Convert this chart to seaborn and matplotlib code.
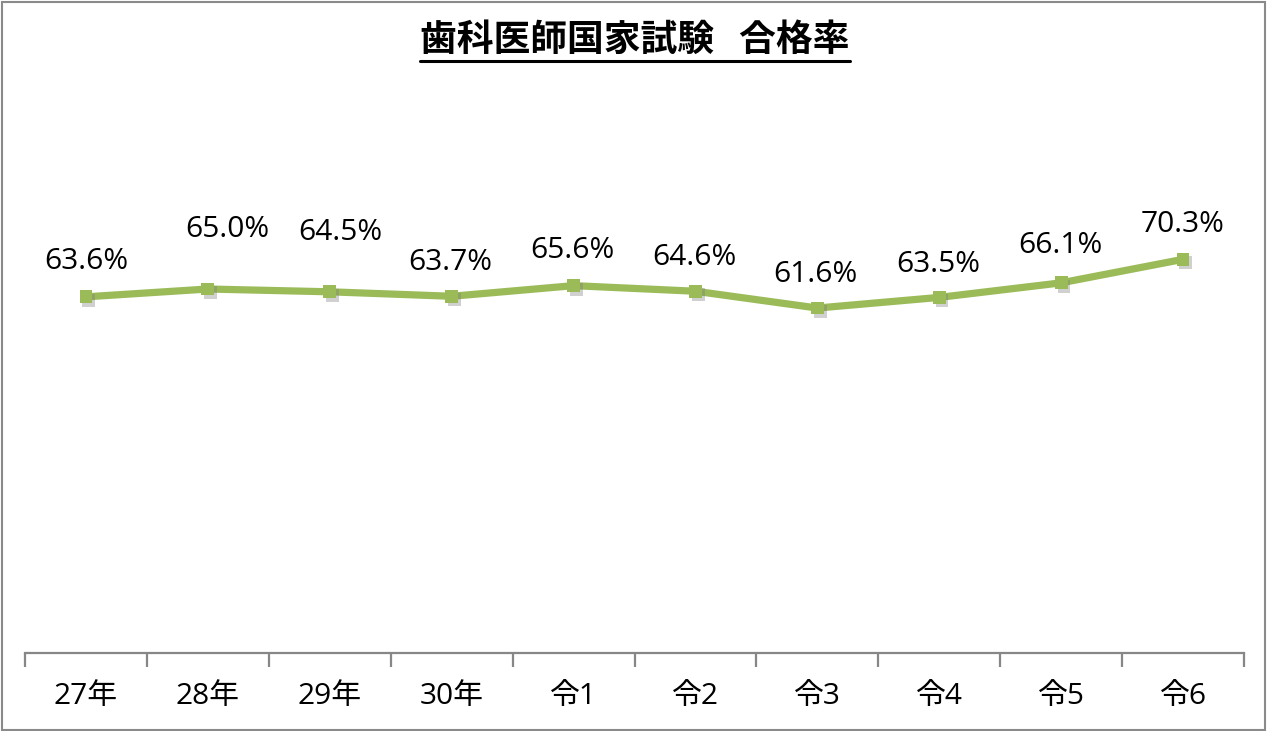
import matplotlib
matplotlib.use("Agg")
import matplotlib.pyplot as plt
import matplotlib.patheffects as pe
from matplotlib.lines import Line2D
from matplotlib.patches import Rectangle
import seaborn as sns
import pandas as pd

categories = ["27年", "28年", "29年", "30年", "令1", "令2", "令3", "令4", "令5", "令6"]
pass_rate = [63.6, 65.0, 64.5, 63.7, 65.6, 64.6, 61.6, 63.5, 66.1, 70.3]
label_texts = ["63.6%", "65.0%", "64.5%", "63.7%", "65.6%", "64.6%", "61.6%", "63.5%", "66.1%", "70.3%"]
title_text = "歯科医師国家試験   合格率"

# label offsets in pixels (dx, dy above point)
label_dx = [0, 19, 11, -1, -1, -1, -2, -1, -1, 0]
label_dy = [35, 59, 59, 34, 35, 34, 34, 33, 37, 35]

sns.set_theme(style="white")
plt.rcParams['font.family'] = ['Open Sans', 'Noto Sans CJK JP', 'DejaVu Sans']

W, H = 1268, 731
fig = plt.figure(figsize=(W / 100, H / 100), dpi=100)
ax = fig.add_axes([25 / W, 78 / H, (1244 - 25) / W, 560 / H])

df = pd.DataFrame({"cat": categories, "rate": pass_rate})
green = "#9BBB59"
sns.lineplot(data=df, x="cat", y="rate", ax=ax, color=green, linewidth=5.2, sort=False)
sns.scatterplot(data=df, x="cat", y="rate", ax=ax, color=green, marker="s", s=85,
                linewidth=0, zorder=3,
                path_effects=[pe.SimplePatchShadow(offset=(2, -2.5), shadow_rgbFace="#7a7a7a", alpha=0.35),
                              pe.Normal()])

ax.set_xlim(-0.5, len(categories) - 0.5)
ax.set_ylim(0, 100)
ax.set_xlabel("")
ax.set_ylabel("")
ax.set_yticks([])
for s in ["top", "right", "left"]:
    ax.spines[s].set_visible(False)
ax.spines["bottom"].set_color("#878787")
ax.spines["bottom"].set_linewidth(1.6)

ax.set_xticks(range(len(categories)))
ax.set_xticklabels(categories, fontsize=21.5, color="black",
                   family=['Open Sans', 'Noto Sans CJK JP'])
ax.set_xticks([i - 0.5 for i in range(len(categories) + 1)], minor=True)
ax.tick_params(axis="x", which="major", length=0, pad=21)
ax.tick_params(axis="x", which="minor", length=10, width=1.6, color="#878787", direction="out", bottom=True)

for i, (v, t) in enumerate(zip(pass_rate, label_texts)):
    ax.annotate(t, xy=(i, v), xytext=(label_dx[i] * 0.72, label_dy[i] * 0.72),
                textcoords="offset points", ha="center", va="center",
                fontsize=21.5, color="black", family=['Open Sans'])

title = fig.text(635 / W, 1 - 40 / H, title_text, ha="center", va="center",
                 fontsize=26.5, fontweight="bold", family=['Noto Sans CJK JP'], color="black")

fig.canvas.draw()
bb = title.get_window_extent()
uy = H - 61
fig.add_artist(Line2D([bb.x0 / W, bb.x1 / W], [uy / H, uy / H], transform=fig.transFigure,
                      color="black", linewidth=2.2))

fig.add_artist(Rectangle((2 / W, 1 / H), (W - 5) / W, (H - 3) / H, transform=fig.transFigure,
                         fill=False, edgecolor="#8a8a8a", linewidth=1.5))

fig.savefig("out.png", dpi=100)
